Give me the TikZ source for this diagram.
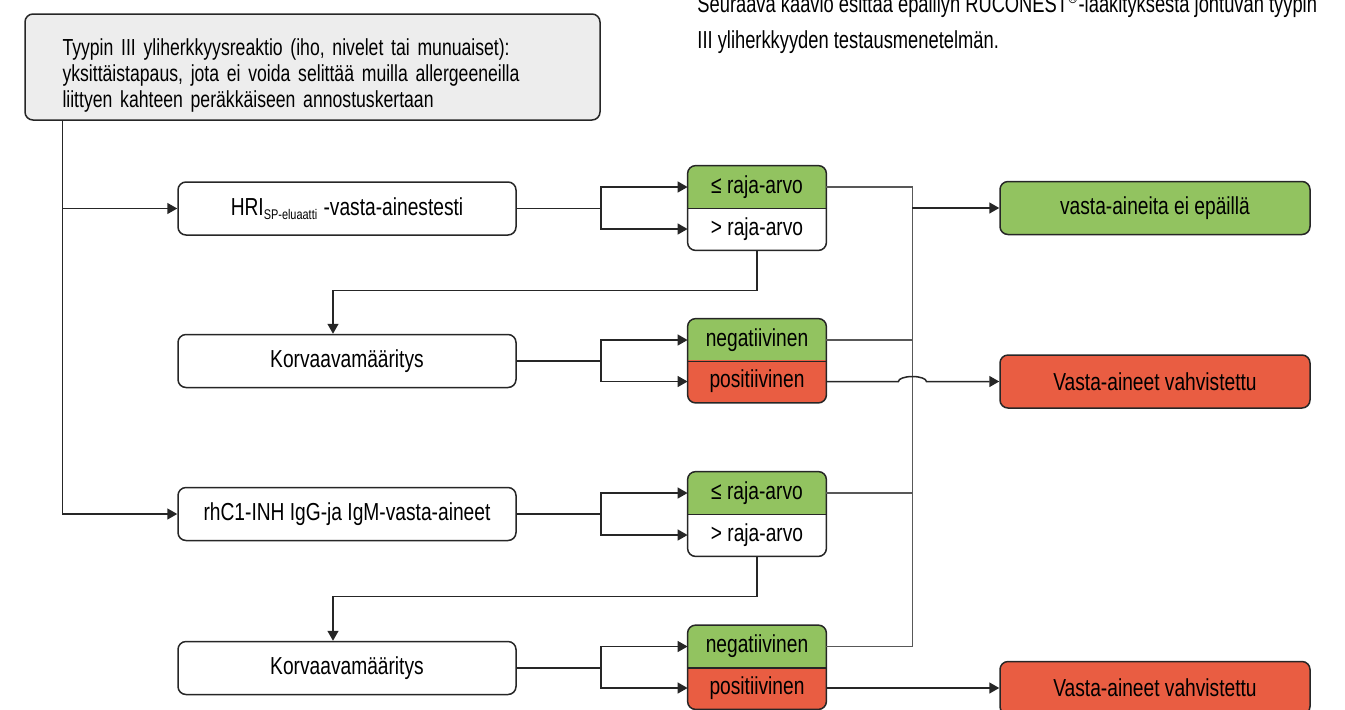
\documentclass[tikz,border=0pt]{standalone}
\usepackage{fontspec}
\setmainfont[FakeStretch=0.78]{Liberation Sans}
\usetikzlibrary{arrows.meta,backgrounds,calc}
\definecolor{okgreen}{RGB}{146,195,96}
\definecolor{posred}{RGB}{233,93,66}
\definecolor{boxgray}{RGB}{237,237,237}
\definecolor{linegray}{RGB}{88,88,88}
\tikzset{
  txt/.style={font=\fontsize{12.3}{14}\selectfont},
  stepbox/.style={txt, draw=black!85, line width=0.75pt, rounded corners=4pt, fill=white,
    minimum width=169pt, minimum height=26.5pt, inner sep=0pt},
  half/.style={txt, minimum width=69pt, minimum height=21pt, inner sep=0pt},
  endbox/.style={stepbox, minimum width=155pt},
  conn/.style={draw=black!85, line width=0.75pt},
  arr/.style={conn, -{Triangle[width=5.5pt,length=5pt]}},
  bus/.style={draw=linegray, line width=0.75pt}
}
\begin{document}
\begin{tikzpicture}[x=0.5pt,y=-0.5pt]
\useasboundingbox (0,0) rectangle (1345,709);
\clip (0,0) rectangle (1345,709);

% heading text
\tikzset{headtxt/.style={font=\fontsize{12.3}{14}\selectfont\addfontfeature{FakeStretch=0.745}, anchor=base west, inner sep=0pt}}
\node[headtxt] (para1) at (697,12) {Seuraava kaavio esittää epäillyn RUCONEST\textsuperscript{®}-lääkityksestä johtuvan tyypin};
\node[headtxt] (para2) at (697,48) {III yliherkkyyden testausmenetelmän.};

% start
\node[draw=black!85, line width=0.75pt, rounded corners=4pt, fill=boxgray, minimum width=287.5pt,
  minimum height=53pt, text width=250pt, inner xsep=18.5pt, align=left,
  font=\fontsize{11.6}{13}\selectfont\addfontfeature{FakeStretch=0.76}] (start) at (312.5,67)
  {\rule{0pt}{17pt}Tyypin III yliherkkyysreaktio (iho, nivelet tai munuaiset):\\
   yksittäistapaus, jota ei voida selittää muilla allergeeneilla\\
   liittyen kahteen peräkkäiseen annostuskertaan};

% tests
\node[stepbox] (hri) at (347,208.5) {HRI\textsubscript{\fontsize{7}{8}\selectfont SP-eluaatti} -vasta-ainestesti};
\node[stepbox] (korv1) at (347,361) {Korvaavamääritys};
\node[stepbox] (rhc) at (347,514) {rhC1-INH IgG-ja IgM-vasta-aineet};
\node[stepbox] (korv2) at (347,668) {Korvaavamääritys};

% results of tests
\node[half] (s1t) at (757,187) {≤ raja-arvo};
\node[half] (s1b) at (757,229) {> raja-arvo};
\node[half] (s2t) at (757,340) {negatiivinen};
\node[half] (s2b) at (757,381.5) {positiivinen};
\node[half] (s3t) at (757,493) {≤ raja-arvo};
\node[half] (s3b) at (757,535) {> raja-arvo};
\node[half] (s4t) at (757,646.5) {negatiivinen};
\node[half] (s4b) at (757,688) {positiivinen};

\begin{pgfonlayer}{background}
\foreach \t/\b/\ct/\cb in {s1t/s1b/okgreen/white, s2t/s2b/okgreen/posred,
                           s3t/s3b/okgreen/white, s4t/s4b/okgreen/posred} {
  \begin{scope}
    \clip[rounded corners=4pt] (\t.north west) rectangle (\b.south east);
    \fill[\ct] (\t.north west) rectangle (\t.south east);
    \fill[\cb] (\b.north west) rectangle (\b.south east);
  \end{scope}
  \draw[conn, rounded corners=4pt] (\t.north west) rectangle (\b.south east);
  \draw[conn] (\t.south west) -- (\t.south east);
}
\end{pgfonlayer}

% end boxes
\node[endbox, fill=okgreen] (ok) at (1155,208) {vasta-aineita ei epäillä\hspace{20pt}};
\node[endbox, fill=posred] (pos1) at (1155,381.5) {Vasta-aineet vahvistettu};
\node[endbox, fill=posred] (pos2) at (1155,688) {Vasta-aineet vahvistettu};

% trunk
\coordinate (trunk) at ([xshift=19pt]start.south west);
\draw[arr] (trunk) |- (hri.west);
\draw[arr] (trunk) |- (rhc.west);

% forks
\foreach \s/\t/\b in {hri/s1t/s1b, korv1/s2t/s2b, rhc/s3t/s3b, korv2/s4t/s4b} {
  \draw[conn] (\s.east) -- ++(42pt,0) coordinate (f);
  \draw[arr] (f) |- (\t.west);
  \draw[arr] (f) |- (\b.west);
}

% down to the next test
\draw[arr] (s1b.south) -- ++(0,-20pt) -| ([xshift=-7pt]korv1.north);
\draw[arr] (s3b.south) -- ++(0,-20pt) -| ([xshift=-7pt]korv2.north);

% collector
\coordinate (bustop) at ($(s1t.east)+(43pt,0)$);
\draw[bus] (s1t.east) -- (bustop) |- (s4t.east);
\draw[bus] (s2t.east) -- (s2t.east -| bustop);
\draw[bus] (s3t.east) -- (s3t.east -| bustop);
\draw[arr] (ok.west -| bustop) -- (ok.west);

% positive results
\draw[arr] (s2b.east) -- ($(s2b.east -| bustop)+(-7pt,0)$)
  arc[start angle=180, end angle=0, x radius=7pt, y radius=2.5pt] -- (pos1.west);
\draw[arr] (s4b.east) -- (pos2.west);
\end{tikzpicture}
\end{document}
